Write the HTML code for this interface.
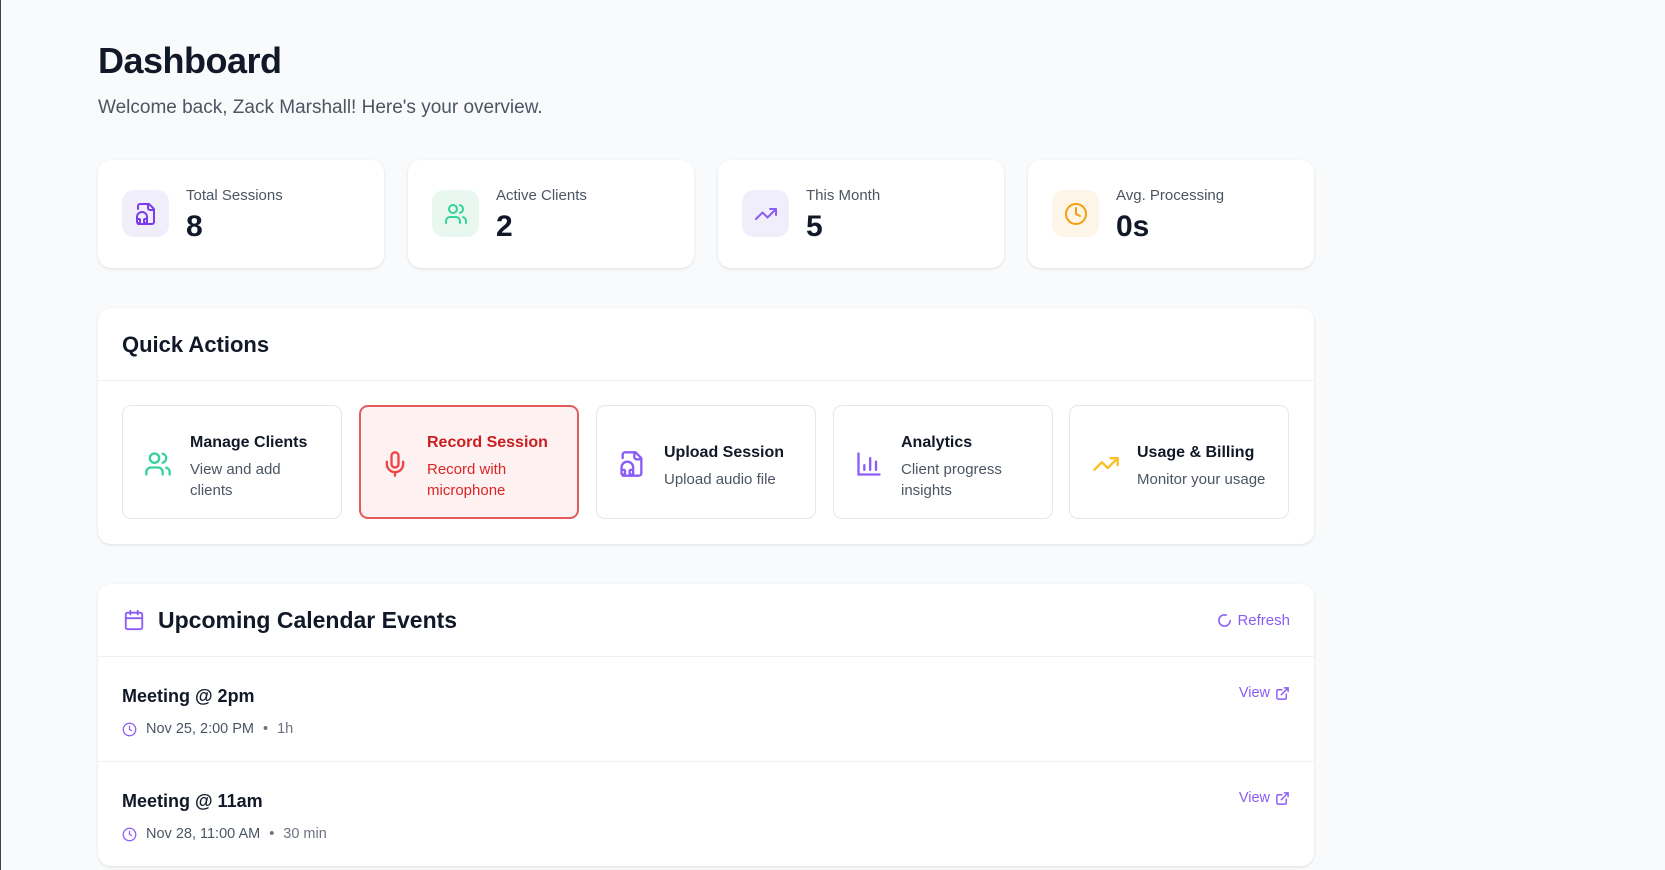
<!DOCTYPE html>
<html><head><meta charset="utf-8"><style>
*{box-sizing:border-box;margin:0;padding:0}
body{width:1665px;height:870px;background:#f9fafb;font-family:"Liberation Sans",sans-serif;color:#111827;position:relative;overflow:hidden;border-left:1.5px solid #444}
.a{position:absolute}
.card{position:absolute;background:#fff;border-radius:13px;box-shadow:0 1px 3px rgba(0,0,0,.08),0 1px 2px rgba(0,0,0,.04)}
.ib{position:absolute;left:24px;top:30px;width:47px;height:47px;border-radius:12px;display:flex;align-items:center;justify-content:center}
.lbl{position:absolute;left:88px;top:27px;font-size:15px;color:#4b5563}
.val{position:absolute;left:88px;top:50px;font-size:30px;font-weight:bold;color:#111827}
.tile{position:absolute;top:97px;width:220px;height:114px;border:1px solid #e5e7eb;border-radius:9px;background:#fff}
.tile svg{position:absolute;left:21px;top:44px}
.tt{position:absolute;left:67px;font-size:16px;font-weight:bold;color:#111827}
.td{position:absolute;left:67px;font-size:15px;color:#4b5563;line-height:21px}
.ev{position:absolute;left:24px;font-size:18px;font-weight:bold}
.meta{position:absolute;left:24px;font-size:14.5px;color:#4b5563;display:flex;align-items:center}
.view{position:absolute;right:24px;font-size:14.5px;color:#8b5cf6;display:flex;align-items:center;gap:5px}
</style></head><body>
<div class="a" style="left:97px;top:40px;font-size:36px;font-weight:bold;letter-spacing:-0.5px">Dashboard</div>
<div class="a" style="left:97px;top:97px;font-size:19px;color:#4b5563">Welcome back, Zack Marshall! Here's your overview.</div>

<div class="card" style="left:97px;top:160px;width:286px;height:108px">
<div class="ib" style="background:#f1eefb"><svg width="24" height="24" viewBox="0 0 24 24" fill="none" stroke="#7c3aed" stroke-width="2" stroke-linecap="round" stroke-linejoin="round"><path d="M4 22h14a2 2 0 0 0 2-2V7l-5-5H6a2 2 0 0 0-2 2v3"/><path d="M14 2v4a2 2 0 0 0 2 2h4"/><path d="M3 17v-2a5 5 0 0 1 10 0v2"/><rect x="3" y="17" width="3" height="4" rx="1"/><rect x="10" y="17" width="3" height="4" rx="1"/></svg></div>
<div class="lbl">Total Sessions</div><div class="val">8</div></div>
<div class="card" style="left:407px;top:160px;width:286px;height:108px">
<div class="ib" style="background:#e8f8f1"><svg width="24" height="24" viewBox="0 0 24 24" fill="none" stroke="#34d399" stroke-width="2" stroke-linecap="round"><path d="M16 21v-2a4 4 0 0 0-4-4H6a4 4 0 0 0-4 4v2"/><circle cx="9" cy="7" r="4"/><path d="M22 21v-2a4 4 0 0 0-3-3.87M16 3.13a4 4 0 0 1 0 7.75"/></svg></div>
<div class="lbl">Active Clients</div><div class="val">2</div></div>
<div class="card" style="left:717px;top:160px;width:286px;height:108px">
<div class="ib" style="background:#f1eefb"><svg width="24" height="24" viewBox="0 0 24 24" fill="none" stroke="#8b5cf6" stroke-width="2" stroke-linecap="round" stroke-linejoin="round"><path d="M22 7l-8.5 8.5-5-5L2 17"/><path d="M16 7h6v6"/></svg></div>
<div class="lbl">This Month</div><div class="val">5</div></div>
<div class="card" style="left:1027px;top:160px;width:286px;height:108px">
<div class="ib" style="background:#fdf5e8"><svg width="24" height="24" viewBox="0 0 24 24" fill="none" stroke="#f59e0b" stroke-width="2" stroke-linecap="round"><circle cx="12" cy="12" r="10"/><path d="M12 6v6l4 2"/></svg></div>
<div class="lbl">Avg. Processing</div><div class="val">0s</div></div>

<div class="card" style="left:97px;top:308px;width:1216px;height:236px">
<div class="a" style="left:24px;top:24px;font-size:22px;font-weight:bold">Quick Actions</div>
<div class="a" style="left:0;top:72px;width:1216px;height:1px;background:#f0f1f3"></div>
<div class="tile" style="left:24px"><svg width="28" height="28" viewBox="0 0 24 24" fill="none" stroke="#34d399" stroke-width="2" stroke-linecap="round"><path d="M16 21v-2a4 4 0 0 0-4-4H6a4 4 0 0 0-4 4v2"/><circle cx="9" cy="7" r="4"/><path d="M22 21v-2a4 4 0 0 0-3-3.87M16 3.13a4 4 0 0 1 0 7.75"/></svg>
<div class="tt" style="top:28px">Manage Clients</div><div class="td" style="top:53px">View and add<br>clients</div></div>
<div class="tile" style="left:261px;background:#fef1f1;border:2px solid #e25c5c"><svg width="28" height="28" viewBox="0 0 24 24" fill="none" stroke="#ef4444" stroke-width="2" stroke-linecap="round" style="left:20px;top:43px"><rect x="9" y="2" width="6" height="13" rx="3"/><path d="M19 10v2a7 7 0 0 1-14 0v-2M12 19v3"/></svg>
<div class="tt" style="top:27px;left:66px;color:#c81e1e">Record Session</div><div class="td" style="top:52px;left:66px;color:#dc2626">Record with<br>microphone</div></div>
<div class="tile" style="left:498px"><svg width="28" height="28" viewBox="0 0 24 24" fill="none" stroke="#8b5cf6" stroke-width="2" stroke-linecap="round" stroke-linejoin="round"><path d="M4 22h14a2 2 0 0 0 2-2V7l-5-5H6a2 2 0 0 0-2 2v3"/><path d="M14 2v4a2 2 0 0 0 2 2h4"/><path d="M3 17v-2a5 5 0 0 1 10 0v2"/><rect x="3" y="17" width="3" height="4" rx="1"/><rect x="10" y="17" width="3" height="4" rx="1"/></svg>
<div class="tt" style="top:38px">Upload Session</div><div class="td" style="top:63px">Upload audio file</div></div>
<div class="tile" style="left:735px"><svg width="28" height="28" viewBox="0 0 24 24" fill="none" stroke="#8b5cf6" stroke-width="2" stroke-linecap="round"><path d="M3 3v18h18M8 17v-4M13 17V7M18 17v-7"/></svg>
<div class="tt" style="top:28px">Analytics</div><div class="td" style="top:53px">Client progress<br>insights</div></div>
<div class="tile" style="left:971px"><svg width="30" height="28" viewBox="0 0 24 24" fill="none" stroke="#fbbf24" stroke-width="2" stroke-linecap="round" stroke-linejoin="round"><path d="M22 7l-8.5 8.5-5-5L2 17"/><path d="M16 7h6v6"/></svg>
<div class="tt" style="top:38px">Usage &amp; Billing</div><div class="td" style="top:63px">Monitor your usage</div></div>
</div>

<div class="card" style="left:97px;top:584px;width:1216px;height:282px">
<svg class="a" style="left:25px;top:25px" width="22" height="22" viewBox="0 0 24 24" fill="none" stroke="#8b5cf6" stroke-width="2" stroke-linecap="round"><rect x="3" y="4" width="18" height="18" rx="2"/><path d="M16 2v4M8 2v4M3 10h18"/></svg>
<div class="a" style="left:60px;top:23px;font-size:23px;font-weight:bold">Upcoming Calendar Events</div>
<div class="a" style="right:24px;top:28px;font-size:15px;color:#8b5cf6;display:flex;align-items:center;gap:5px"><svg width="15" height="15" viewBox="0 0 24 24" fill="none" stroke="#8b5cf6" stroke-width="2.5" stroke-linecap="round"><path d="M21 12a9 9 0 1 1-6.2-8.6"/></svg>Refresh</div>
<div class="a" style="left:0;top:72px;width:1216px;height:1px;background:#f0f1f3"></div>
<div class="ev" style="top:102px">Meeting @ 2pm</div>
<div class="meta" style="top:137px"><svg width="15" height="15" viewBox="0 0 24 24" fill="none" stroke="#8b5cf6" stroke-width="2" style="margin-right:9px"><circle cx="12" cy="12" r="10"/><path d="M12 6v6l4 2"/></svg>Nov 25, 2:00 PM<span style="margin:0 9px;color:#6b7280">•</span><span style="color:#6b7280">1h</span></div>
<div class="view" style="top:101px">View <svg width="15" height="15" viewBox="0 0 24 24" fill="none" stroke="#8b5cf6" stroke-width="2.3" stroke-linecap="round"><path d="M15 3h6v6M10 14L21 3M18 13v6a2 2 0 0 1-2 2H5a2 2 0 0 1-2-2V8a2 2 0 0 1 2-2h6"/></svg></div>
<div class="a" style="left:0;top:177px;width:1216px;height:1px;background:#f0f1f3"></div>
<div class="ev" style="top:207px">Meeting @ 11am</div>
<div class="meta" style="top:242px"><svg width="15" height="15" viewBox="0 0 24 24" fill="none" stroke="#8b5cf6" stroke-width="2" style="margin-right:9px"><circle cx="12" cy="12" r="10"/><path d="M12 6v6l4 2"/></svg>Nov 28, 11:00 AM<span style="margin:0 9px;color:#6b7280">•</span><span style="color:#6b7280">30 min</span></div>
<div class="view" style="top:206px">View <svg width="15" height="15" viewBox="0 0 24 24" fill="none" stroke="#8b5cf6" stroke-width="2.3" stroke-linecap="round"><path d="M15 3h6v6M10 14L21 3M18 13v6a2 2 0 0 1-2 2H5a2 2 0 0 1-2-2V8a2 2 0 0 1 2-2h6"/></svg></div>
</div>
</body></html>
